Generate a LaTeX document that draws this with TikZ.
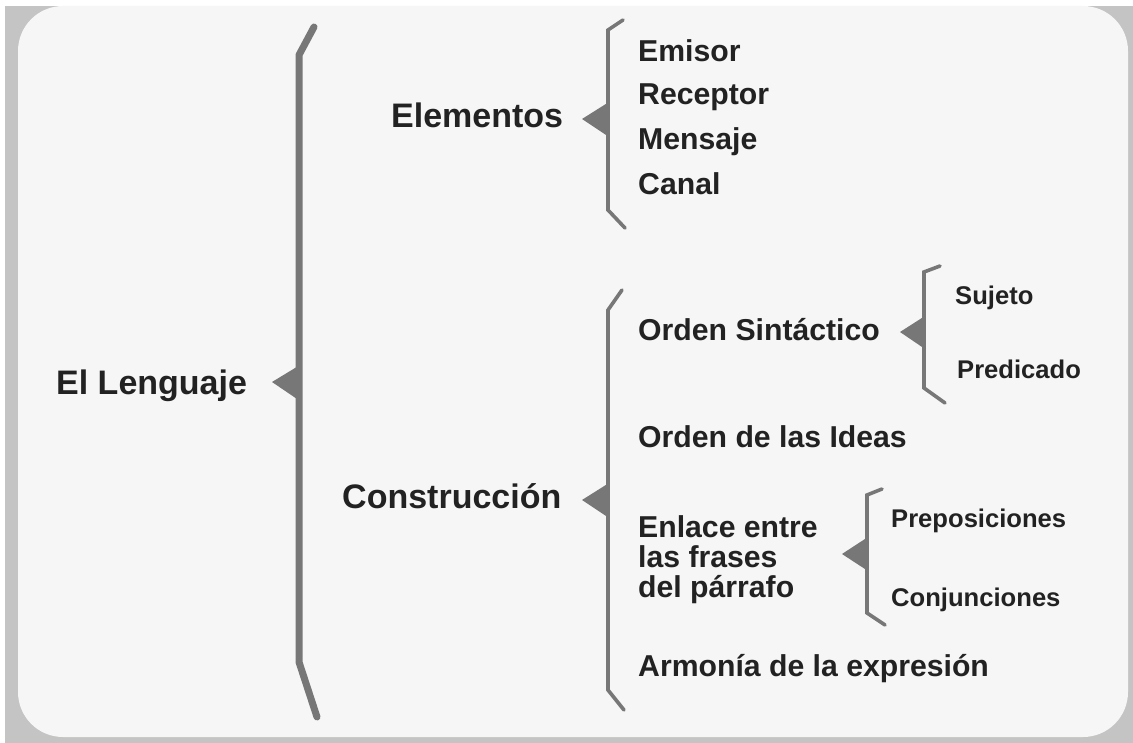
\documentclass[tikz,border=0pt]{standalone}
\usepackage{fontspec}
\setmainfont{Liberation Sans}
\definecolor{txt}{HTML}{222222}
\definecolor{ln}{HTML}{777777}
\definecolor{panel}{HTML}{F6F6F6}
\definecolor{frame}{HTML}{C4C4C4}
\tikzset{
  big/.style={anchor=base west, inner sep=0pt, text=txt, font=\bfseries\fontsize{34}{34}\selectfont},
  item/.style={anchor=base west, inner sep=0pt, text=txt, font=\bfseries\fontsize{30.2}{30.2}\selectfont},
  small/.style={anchor=base west, inner sep=0pt, text=txt, font=\bfseries\fontsize{25.6}{25.6}\selectfont},
  bracebig/.style={draw=ln, line width=7pt, line cap=round, line join=round},
  bracemid/.style={draw=ln, line width=3.6pt, line cap=round, line join=miter},
  tip/.style={fill=ln, draw=none}
}
\begin{document}
\begin{tikzpicture}[x=1pt,y=-1pt]
\useasboundingbox (0,0) rectangle (1133,743);
\fill[white] (0,0) rectangle (1133,743);
\fill[frame] (5,6) rectangle (1133,743);
\fill[panel, rounded corners=45pt] (18,6) rectangle (1128,737);

% big brace
\draw[bracebig] (314,27) -- (299,55) -- (299,662) -- (317,717);
\fill[tip] (272,382) -- (300,365) -- (300,401) -- cycle;

% Elementos brace
\draw[bracemid] (623,20) -- (608,30) -- (608,210) -- (625,228);
\fill[tip] (582,119) -- (609,102) -- (609,137) -- cycle;

% Construccion brace
\draw[bracemid] (622,290) -- (608,310) -- (608,690) -- (624,710);
\fill[tip] (582,500) -- (609,483) -- (609,518) -- cycle;

% Sujeto brace
\draw[bracemid] (940,266) -- (924,272) -- (924,388) -- (945,403);
\fill[tip] (900,332) -- (925,316) -- (925,349) -- cycle;

% Preposiciones brace
\draw[bracemid] (882,489) -- (867,495) -- (867,613) -- (885,625);
\fill[tip] (842,554) -- (868,537) -- (868,571) -- cycle;

\node[big] (leng) at (56,395) {El Lenguaje};
\node[big] (elem) at (391,128) {Elementos};
\node[big] (cons) at (342,508) {Construcción};

\node[item] (emi) at (638,62) {Emisor};
\node[item] (rec) at (638,105) {Receptor};
\node[item] (men) at (638,150) {Mensaje};
\node[item] (can) at (638,195) {Canal};

\node[item] (os) at (638,341) {Orden Sintáctico};
\node[item] (oi) at (638,447) {Orden de las Ideas};
\node[item] (e1) at (638,537) {Enlace entre};
\node[item] (e2) at (638,567) {las frases};
\node[item] (e3) at (638,597) {del párrafo};
\node[item] (arm) at (638,676) {Armonía de la expresión};

\node[small] (suj) at (955,305) {Sujeto};
\node[small] (pre) at (957,379) {Predicado};
\node[small] (prep) at (891,527) {Preposiciones};
\node[small] (conj) at (891,606) {Conjunciones};
\end{tikzpicture}
\end{document}
